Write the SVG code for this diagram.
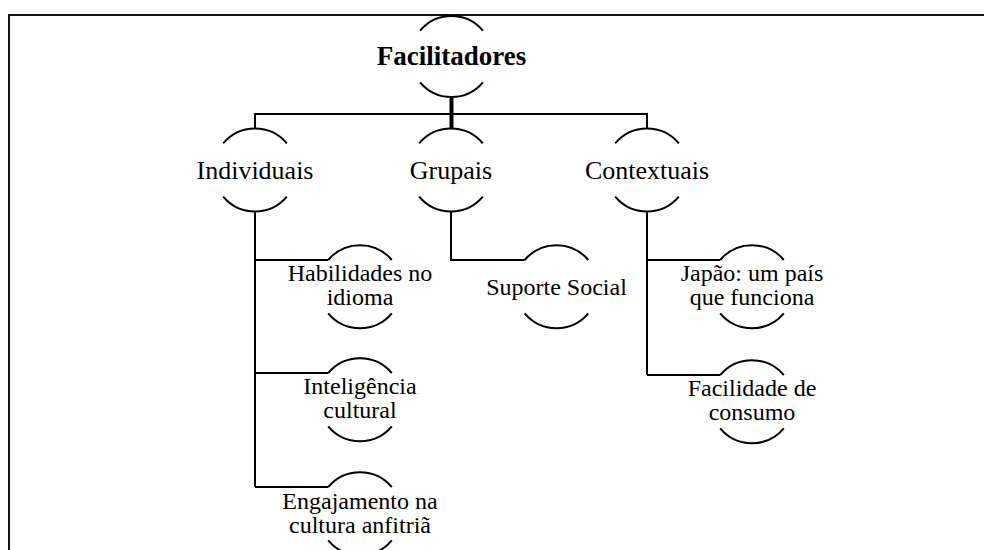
<svg xmlns="http://www.w3.org/2000/svg" width="984" height="550" viewBox="0 0 984 550">
  <style>
    .frame { fill: none; stroke: #111; stroke-width: 2; }
    .arc { fill: none; stroke: #000; stroke-width: 2; }
    .link { fill: none; stroke: #000; stroke-width: 2; }
    .trunk { fill: none; stroke: #000; stroke-width: 4; }
    text { font-family: "Liberation Serif", "Times New Roman", Tinos, serif; fill: #000; text-anchor: middle; }
    .root { font-size: 27px; font-weight: bold; }
    .l2 { font-size: 26px; }
    .l3 { font-size: 24px; }
  </style>
  <rect x="0" y="0" width="984" height="550" fill="#fff"/>
  <!-- page frame: top and left edges -->
  <path class="frame" d="M9 550 V15 H984"/>

  <!-- connectors -->
  <g id="connectors">
    <path class="trunk" d="M451.5 97 V128"/>
    <path class="link" d="M255 128 V114 H647 V128"/>
    <!-- Individuais branch -->
    <path class="link" d="M255 212 V487"/>
    <path class="link" d="M255 260 H328.2"/>
    <path class="link" d="M255 373 H328.2"/>
    <path class="link" d="M255 487 H328.2"/>
    <!-- Grupais branch -->
    <path class="link" d="M451 212 V260 H524.7"/>
    <!-- Contextuais branch -->
    <path class="link" d="M647 212 V375"/>
    <path class="link" d="M647 260 H720.2"/>
    <path class="link" d="M647 375 H720.2"/>
  </g>

  <g id="facilitadores">
    <path class="arc" d="M420.1 30.6 A41 41 0 0 1 482.9 30.6"/>
    <path class="arc" d="M420.1 82.4 A41 41 0 0 0 482.9 82.4"/>
    <text class="root" x="451.5" y="65">Facilitadores</text>
  </g>

  <g id="individuais">
    <path class="arc" d="M223.2 143.3 A41.5 41.5 0 0 1 286.8 143.3"/>
    <path class="arc" d="M223.2 196.7 A41.5 41.5 0 0 0 286.8 196.7"/>
    <text class="l2" x="255" y="179">Individuais</text>
  </g>

  <g id="grupais">
    <path class="arc" d="M419.2 143.3 A41.5 41.5 0 0 1 482.8 143.3"/>
    <path class="arc" d="M419.2 196.7 A41.5 41.5 0 0 0 482.8 196.7"/>
    <text class="l2" x="451" y="179">Grupais</text>
  </g>

  <g id="contextuais">
    <path class="arc" d="M615.2 143.3 A41.5 41.5 0 0 1 678.8 143.3"/>
    <path class="arc" d="M615.2 196.7 A41.5 41.5 0 0 0 678.8 196.7"/>
    <text class="l2" x="647" y="179">Contextuais</text>
  </g>

  <g id="habilidades">
    <path class="arc" d="M328.2 260 A41.5 41.5 0 0 1 391.8 260"/>
    <path class="arc" d="M328.2 313.4 A41.5 41.5 0 0 0 391.8 313.4"/>
    <text class="l3" x="360" y="281">Habilidades no</text>
    <text class="l3" x="360" y="305">idioma</text>
  </g>

  <g id="inteligencia">
    <path class="arc" d="M328.2 373 A41.5 41.5 0 0 1 391.8 373"/>
    <path class="arc" d="M328.2 426.4 A41.5 41.5 0 0 0 391.8 426.4"/>
    <text class="l3" x="360" y="394">Inteligência</text>
    <text class="l3" x="360" y="418">cultural</text>
  </g>

  <g id="engajamento">
    <path class="arc" d="M328.2 487 A41.5 41.5 0 0 1 391.8 487"/>
    <path class="arc" d="M328.2 540.4 A41.5 41.5 0 0 0 391.8 540.4"/>
    <text class="l3" x="360" y="509">Engajamento na</text>
    <text class="l3" x="360" y="533">cultura anfitriã</text>
  </g>

  <g id="suporte-social">
    <path class="arc" d="M524.7 260 A41.5 41.5 0 0 1 588.3 260"/>
    <path class="arc" d="M524.7 313.4 A41.5 41.5 0 0 0 588.3 313.4"/>
    <text class="l3" x="556.5" y="295">Suporte Social</text>
  </g>

  <g id="japao">
    <path class="arc" d="M720.2 260 A41.5 41.5 0 0 1 783.8 260"/>
    <path class="arc" d="M720.2 313.4 A41.5 41.5 0 0 0 783.8 313.4"/>
    <text class="l3" x="752" y="281">Japão: um país</text>
    <text class="l3" x="752" y="305">que funciona</text>
  </g>

  <g id="facilidade">
    <path class="arc" d="M720.2 375 A41.5 41.5 0 0 1 783.8 375"/>
    <path class="arc" d="M720.2 428.4 A41.5 41.5 0 0 0 783.8 428.4"/>
    <text class="l3" x="752" y="396">Facilidade de</text>
    <text class="l3" x="752" y="420">consumo</text>
  </g>
</svg>
